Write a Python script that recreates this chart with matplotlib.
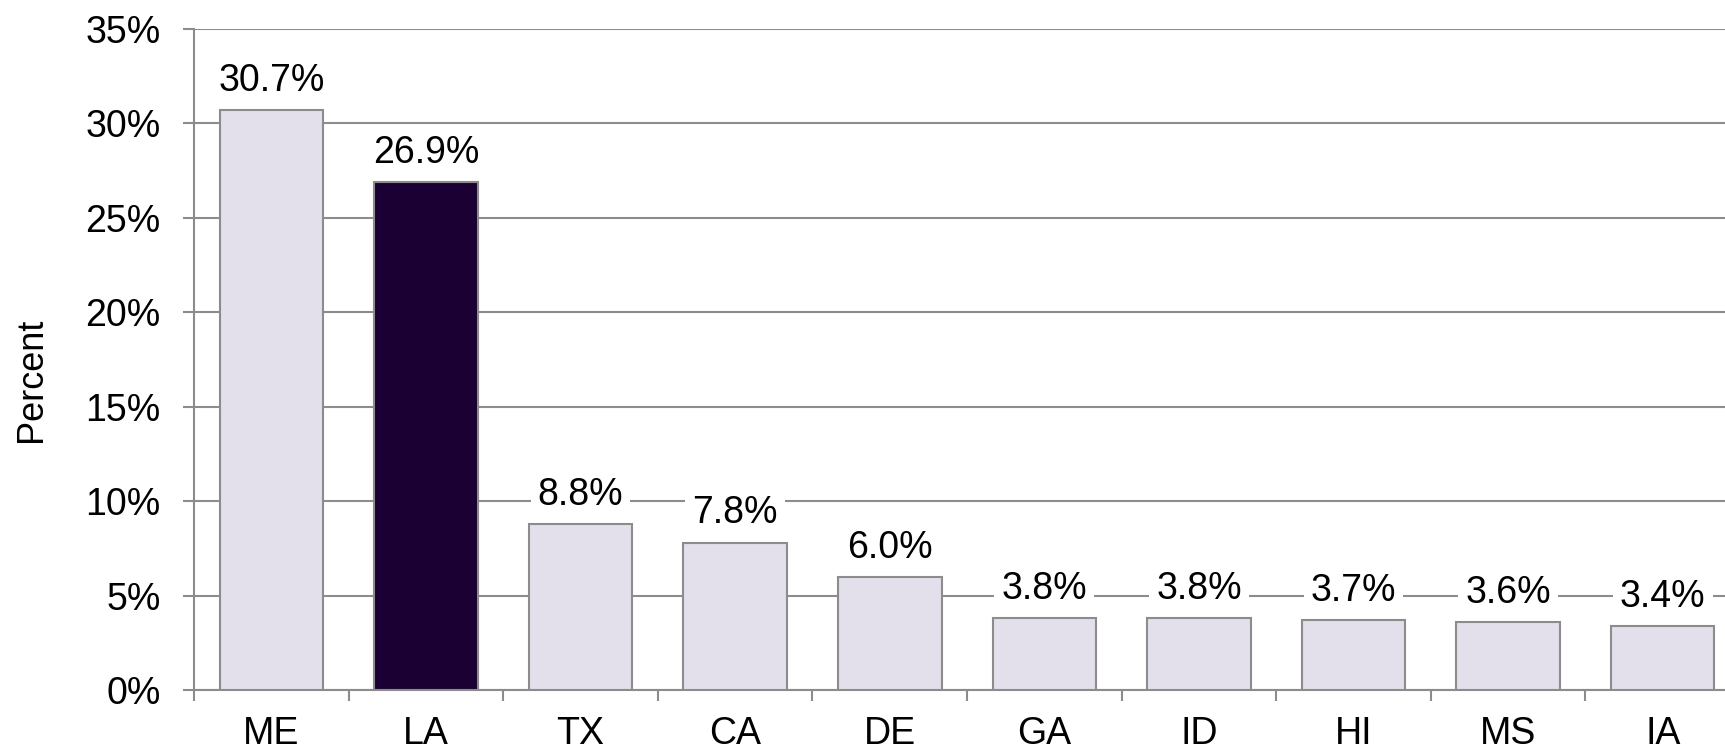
import matplotlib
matplotlib.use('Agg')
import matplotlib.pyplot as plt
from matplotlib.ticker import FixedLocator, PercentFormatter

# ─── data ─────────────────────────────────
states = ['ME', 'LA', 'TX', 'CA', 'DE', 'GA', 'ID', 'HI', 'MS', 'IA']
pct = [30.7, 26.9, 8.8, 7.8, 6.0, 3.8, 3.8, 3.7, 3.6, 3.4]
highlight = 'LA'

plt.rcParams['font.family'] = ['Liberation Sans', 'DejaVu Sans']

fig = plt.figure(figsize=(17.25, 7.47), dpi=100)
# plot area runs off the right edge in the original
ax = fig.add_axes([0.1125, 0.0763, 0.8962, 0.8854])

light, dark, edge, grid = '#e3dfeb', '#1a0033', '#8c8c8c', '#8c8c8c'
colors = [dark if s == highlight else light for s in states]
x = list(range(len(states)))
bars = ax.bar(x, pct, width=0.67, color=colors, edgecolor=edge, linewidth=1.5, zorder=3)

for xi, v in zip(x, pct):
    ax.annotate(f'{v:.1f}%', (xi, v), xytext=(0, 8), textcoords='offset points',
                ha='center', va='bottom', fontsize=27, color='black', zorder=4,
                bbox=dict(facecolor='white', edgecolor='none', pad=5))

ax.set_xlim(-0.5, len(states) - 0.5)
ax.set_ylim(0, 35)
ax.set_yticks(range(0, 36, 5))
ax.yaxis.set_major_formatter(PercentFormatter(decimals=0))
ax.grid(axis='y', color=grid, linewidth=1.5, zorder=0)
ax.set_axisbelow(True)

ax.set_xticks(x)
ax.set_xticklabels(states)
ax.xaxis.set_minor_locator(FixedLocator([i - 0.5 for i in range(len(states) + 1)]))
ax.tick_params(axis='x', which='major', length=0, pad=19, labelsize=27)
ax.tick_params(axis='x', which='minor', length=8, width=1.5, color=edge, direction='out')
ax.tick_params(axis='y', length=8, width=1.5, color=edge, pad=16, labelsize=27)

for side in ['top', 'right']:
    ax.spines[side].set_visible(False)
for side in ['left', 'bottom']:
    ax.spines[side].set_color(edge)
    ax.spines[side].set_linewidth(1.5)

fig.text(0.018, 0.492, 'Percent', rotation=90, ha='center', va='center', fontsize=26)

fig.savefig('out.png', dpi=100)
